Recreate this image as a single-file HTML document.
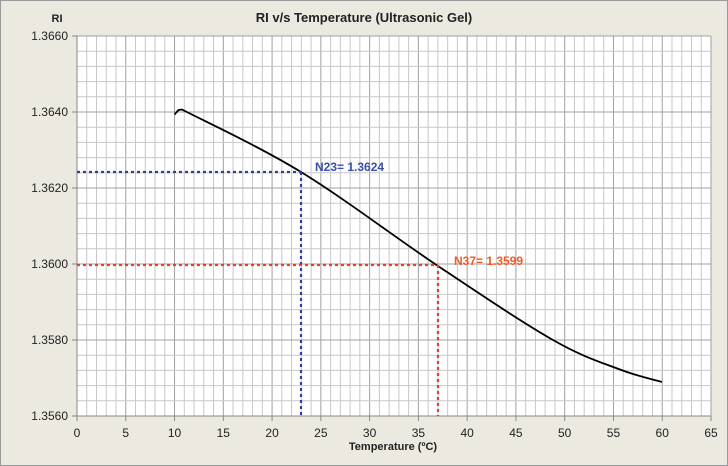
<!DOCTYPE html>
<html><head><style>
body{margin:0;background:#fff;}
svg{display:block;font-family:"Liberation Sans",Arial,sans-serif;}
</style></head><body>
<svg width="728" height="466" viewBox="0 0 728 466">
<rect x="0.5" y="0.5" width="727" height="465" fill="#ECE9E0" stroke="#999"/>
<rect x="77" y="36" width="634" height="380" fill="#fff"/>
<g id="grid"></g>
<text x="364" y="22" text-anchor="middle" font-size="13" font-weight="bold" fill="#222">RI v/s Temperature (Ultrasonic Gel)</text>
<text x="57" y="22" text-anchor="middle" font-size="11" font-weight="bold" fill="#222">RI</text>
<text x="393" y="450" text-anchor="middle" font-size="11" font-weight="bold" fill="#222">Temperature (ºC)</text>
<g id="lbl" font-size="12" fill="#222"></g>
<path d="" id="curve" fill="none" stroke="#000" stroke-width="1.8" stroke-linejoin="round"/>
<g stroke-dasharray="3,3" stroke-width="2.2">
<line x1="77" y1="172" x2="301" y2="172" stroke="#2E3F9E"/>
<line x1="301" y1="172" x2="301" y2="416" stroke="#2E3F9E"/>
<line x1="77" y1="265" x2="438" y2="265" stroke="#F03A2A"/>
<line x1="438" y1="265" x2="438" y2="416" stroke="#F03A2A"/>
</g>
<text x="315" y="171" font-size="12" font-weight="bold" fill="#3A4FA8">N23= 1.3624</text>
<text x="454" y="265" font-size="12" font-weight="bold" fill="#F05A28">N37= 1.3599</text>
</svg>
<script>
var ns="http://www.w3.org/2000/svg",g=document.getElementById("grid"),l=document.getElementById("lbl");
function X(t){return 77+t*634/65}
function ln(x1,y1,x2,y2,c,w){var e=document.createElementNS(ns,"line");e.setAttribute("x1",x1);e.setAttribute("y1",y1);e.setAttribute("x2",x2);e.setAttribute("y2",y2);e.setAttribute("stroke",c);e.setAttribute("stroke-width",w);g.appendChild(e);}
function tx(x,y,s,a){var e=document.createElementNS(ns,"text");e.setAttribute("x",x);e.setAttribute("y",y);e.setAttribute("text-anchor",a);e.textContent=s;l.appendChild(e);}
for(var i=0;i<=65;i++){var x=X(i);ln(x,36,x,416,i%5?"#c8c8c8":"#a0a0a0",1);if(i%5==0){ln(x,416,x,421,"#888",1);tx(x,437,String(i),"middle");}}
for(var j=0;j<=25;j++){var y=36+j*15.2;ln(77,y,711,y,j%5?"#c8c8c8":"#a0a0a0",1);if(j%5==0){ln(72,y,77,y,"#888",1);tx(68,y+4,(1.366-j*0.0004).toFixed(4),"end");}}
ln(77,36,77,416,"#888",1);ln(77,416,711,416,"#888",1);
var s="M174.5,114.5 L178.5,110 L182,109.5";
var p=[[182,109.5],[301,172],[438,266],[553,340],[620,369.5],[662,382]];
for(var k=0;k<p.length-1;k++){var p0=p[Math.max(k-1,0)],p1=p[k],p2=p[k+1],p3=p[Math.min(k+2,p.length-1)];
s+=" C"+(p1[0]+(p2[0]-p0[0])/6).toFixed(1)+","+(p1[1]+(p2[1]-p0[1])/6).toFixed(1)+" "+(p2[0]-(p3[0]-p1[0])/6).toFixed(1)+","+(p2[1]-(p3[1]-p1[1])/6).toFixed(1)+" "+p2[0]+","+p2[1];}
document.getElementById("curve").setAttribute("d",s);
</script>
</body></html>
